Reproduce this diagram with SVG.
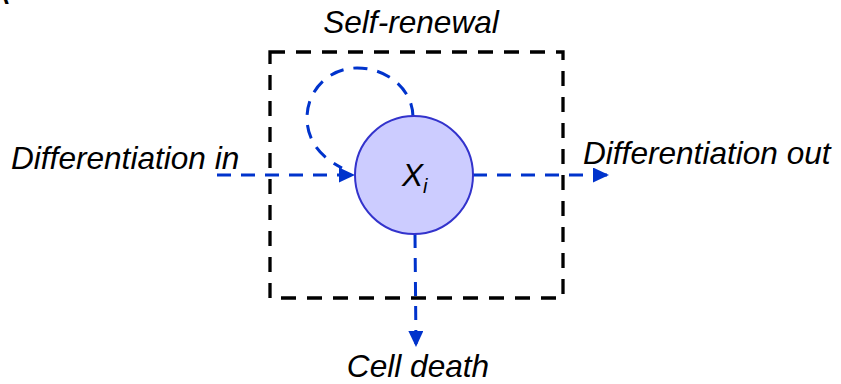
<svg xmlns="http://www.w3.org/2000/svg" width="841" height="384" viewBox="0 0 841 384">
<style>
.lbl{font-family:"Liberation Sans",Arial,sans-serif;font-style:italic;font-size:31.6px;fill:#000}
.blue{fill:none;stroke:#0033cc;stroke-width:3;stroke-dasharray:14 10}
</style>
<defs>
<marker id="ah" markerUnits="userSpaceOnUse" markerWidth="16" markerHeight="15" refX="16" refY="7.5" orient="auto">
<path d="M0,0 L16,7.5 L0,15 z" fill="#0033cc"/>
</marker>
</defs>
<rect width="841" height="384" fill="#fff"/>
<text x="-8" y="4" font-family="Liberation Sans,Arial,sans-serif" font-weight="bold" font-size="24">A</text>
<g id="box">
<rect x="270" y="52" width="293" height="246" fill="none" stroke="#000" stroke-width="3.3" stroke-dasharray="15 11"/>
<text class="lbl" x="411" y="33" text-anchor="middle">Self-renewal</text>
</g>
<g id="connectors">
<path class="blue" d="M413,117 C413,90 388,68 357,68 C329,68 307,90 307,118 C307,140 320,157 342,168"/>
<line class="blue" x1="217" y1="175" x2="355" y2="175" marker-end="url(#ah)"/>
<line class="blue" x1="473" y1="175" x2="609" y2="175" marker-end="url(#ah)"/>
<line class="blue" x1="415" y1="234" x2="416" y2="347" marker-end="url(#ah)"/>
</g>
<g id="node-xi">
<circle cx="414" cy="175" r="59" fill="#ccccff" stroke="#3333cc" stroke-width="2"/>
<text class="lbl" x="402" y="186">X<tspan font-size="20" dy="7">i</tspan></text>
</g>
<g id="label-in"><text class="lbl" x="11" y="169">Differentiation in</text></g>
<g id="label-out"><text class="lbl" x="583" y="164">Differentiation out</text></g>
<g id="label-death"><text class="lbl" x="418" y="377" text-anchor="middle">Cell death</text></g>
</svg>
